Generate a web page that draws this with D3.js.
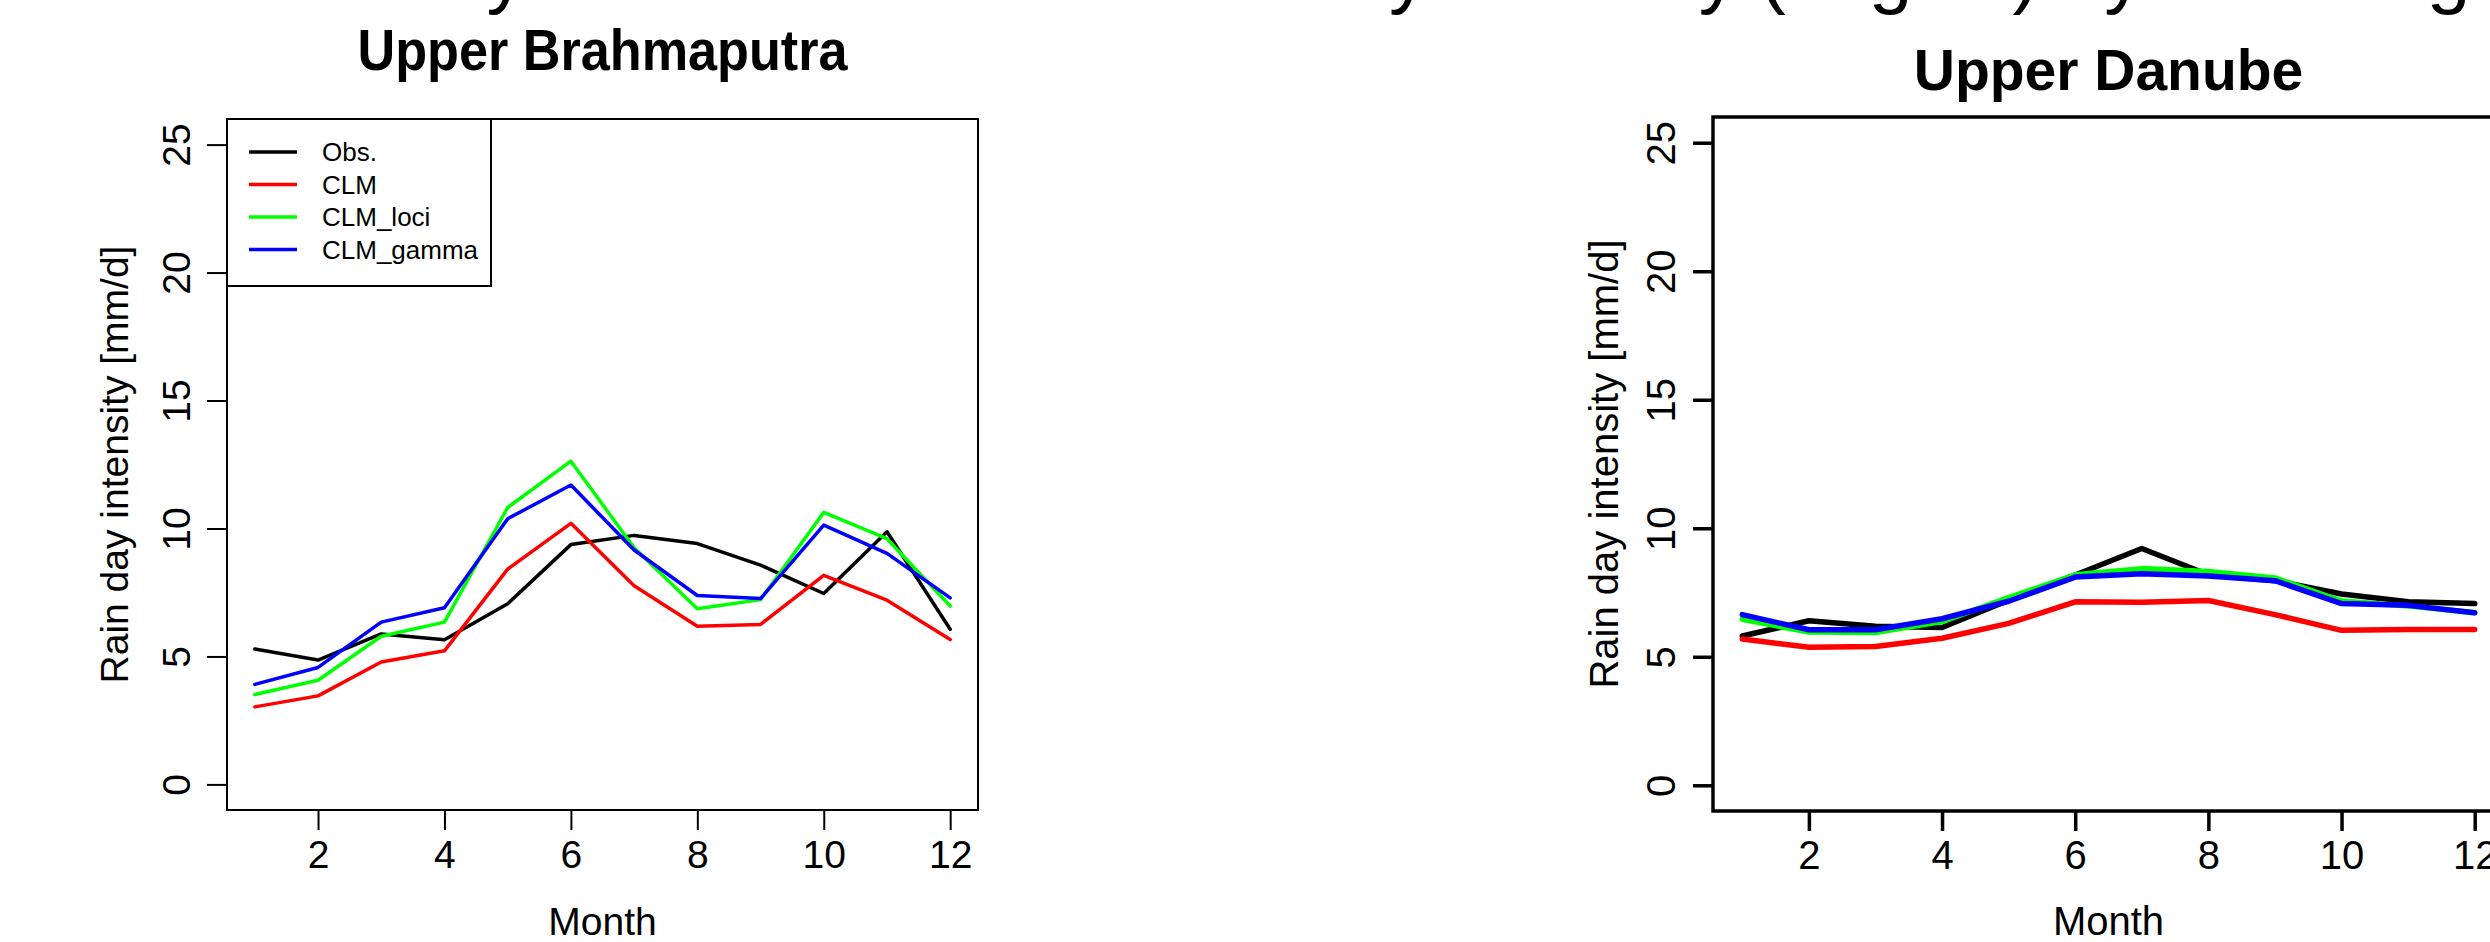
<!DOCTYPE html>
<html>
<head>
<meta charset="utf-8">
<script src="https://cdn.jsdelivr.net/npm/d3@7"></script>
<style>
  html, body { margin: 0; padding: 0; background: #fff; }
  svg { display: block; }
  text { font-family: "Liberation Sans", Arial, Helvetica, sans-serif; fill: #000; }
</style>
</head>
<body>
<svg id="chart" width="2490" height="942"></svg>
<script>
// months on the x axis
let months = [1, 2, 3, 4, 5, 6, 7, 8, 9, 10, 11, 12];
let xTicks = [2, 4, 6, 8, 10, 12];
let yTicks = [0, 5, 10, 15, 20, 25];
let yLimits = [0, 25];

let seriesNames = ['Obs.', 'CLM', 'CLM_loci', 'CLM_gamma'];
let seriesColors = ['#000000', '#ff0000', '#00ff00', '#0000ff'];

// Upper Brahmaputra, rain day intensity [mm/d]
let brahmaObs   = [5.29, 4.86, 5.88, 5.65, 7.06, 9.37, 9.73, 9.41, 8.57, 7.46, 9.87, 6.06];
let brahmaClm   = [3.03, 3.46, 4.78, 5.22, 8.41, 10.20, 7.76, 6.18, 6.25, 8.17, 7.20, 5.66];
let brahmaLoci  = [3.51, 4.07, 5.79, 6.34, 10.82, 12.63, 9.25, 6.86, 7.22, 10.63, 9.60, 6.97];
let brahmaGamma = [3.91, 4.57, 6.34, 6.90, 10.38, 11.70, 9.16, 7.38, 7.26, 10.13, 9.03, 7.29];

// Upper Danube, rain day intensity [mm/d]
let danubeObs   = [5.81, 6.40, 6.19, 6.14, 7.20, 8.18, 9.21, 8.19, 7.96, 7.44, 7.14, 7.07];
let danubeClm   = [5.69, 5.37, 5.40, 5.72, 6.30, 7.14, 7.12, 7.19, 6.64, 6.03, 6.06, 6.06];
let danubeLoci  = [6.46, 5.96, 5.94, 6.37, 7.30, 8.19, 8.43, 8.32, 8.07, 7.17, 6.98, 6.71];
let danubeGamma = [6.64, 6.05, 6.05, 6.48, 7.16, 8.10, 8.23, 8.14, 7.96, 7.07, 7.00, 6.71];

// figure caption, mostly cut off at the top of the picture
let caption = 'Monthly mean catchment rain day intensity (avg all) by each region';

let svg = d3.select('#chart');

// R style axis range: data range stretched 4% at both ends
function padRange(extent) {
    let pad = (extent[1] - extent[0]) * 0.04;
    return [extent[0] - pad, extent[1] + pad];
}

// only the descenders of the caption show; fit it so the first 'y'
// and the last 'g' fall where they do in the figure
function drawCaption() {
    let firstX = 506, lastX = 2449;
    let text = svg.append('text')
        .attr('x', 0)
        .attr('y', -1)
        .attr('font-family', '"DejaVu Sans Condensed", "DejaVu Sans", sans-serif')
        .attr('font-size', 80)
        .text(caption);
    let node = text.node();
    let first = caption.indexOf('y');
    let last = caption.lastIndexOf('g');
    let centre = i => {
        let r = node.getExtentOfChar(i);
        return r.x + r.width / 2;
    };
    text.attr('font-size', 80 * (lastX - firstX) / (centre(last) - centre(first)));
    text.attr('x', firstX - centre(first));
}

function drawPanel(p) {
    let x = d3.scaleLinear().domain(padRange(d3.extent(months))).range([p.left, p.right]);
    let y = d3.scaleLinear().domain(padRange(yLimits)).range([p.bottom, p.top]);
    let g = svg.append('g');

    // title
    g.append('text')
        .attr('transform', `translate(${(p.left + p.right) / 2}, ${p.titleY}) scale(${p.titleStretch}, 1)`)
        .attr('text-anchor', 'middle')
        .attr('font-family', p.titleFont)
        .attr('font-weight', 'bold')
        .attr('font-size', p.titleSize)
        .text(p.title);

    // y axis, labels parallel to the axis like R's las = 0
    let yAxis = g.append('g')
        .attr('transform', `translate(${p.left}, 0)`)
        .call(d3.axisLeft(y).tickValues(yTicks).tickSize(p.tick));
    yAxis.attr('font-size', p.fontSize).attr('font-family', null);
    yAxis.select('.domain').remove();
    yAxis.selectAll('line').attr('stroke', '#000').attr('stroke-width', p.axisWidth);
    yAxis.selectAll('text')
        .attr('x', 0)
        .attr('y', -p.yLabelGap)
        .attr('dy', 0)
        .attr('transform', 'rotate(-90)')
        .attr('text-anchor', 'middle')
        .attr('fill', '#000');

    let xAxis = g.append('g')
        .attr('transform', `translate(0, ${p.bottom})`)
        .call(d3.axisBottom(x).tickValues(xTicks).tickSize(p.tick));
    xAxis.attr('font-size', p.fontSize).attr('font-family', null);
    xAxis.select('.domain').remove();
    xAxis.selectAll('line').attr('stroke', '#000').attr('stroke-width', p.axisWidth);
    xAxis.selectAll('text')
        .attr('y', p.xLabelGap)
        .attr('dy', 0)
        .attr('fill', '#000');

    // axis titles
    g.append('text')
        .attr('x', (p.left + p.right) / 2)
        .attr('y', p.monthY)
        .attr('text-anchor', 'middle')
        .attr('font-size', p.fontSize)
        .text('Month');
    g.append('text')
        .attr('transform', `translate(${p.yTitleX}, ${(p.top + p.bottom) / 2}) rotate(-90)`)
        .attr('text-anchor', 'middle')
        .attr('font-size', p.fontSize)
        .text('Rain day intensity [mm/d]');

    // series lines
    let line = d3.line()
        .x((d, i) => x(months[i]))
        .y(d => y(d));
    g.selectAll('path.series')
        .data(p.series)
        .join('path')
        .attr('class', 'series')
        .attr('d', line)
        .attr('fill', 'none')
        .attr('stroke', (d, i) => seriesColors[i])
        .attr('stroke-width', p.lineWidth)
        .attr('stroke-linejoin', 'round')
        .attr('stroke-linecap', 'round');

    // plot frame
    g.append('rect')
        .attr('x', p.left)
        .attr('y', p.top)
        .attr('width', p.right - p.left)
        .attr('height', p.bottom - p.top)
        .attr('fill', 'none')
        .attr('stroke', '#000')
        .attr('stroke-width', p.axisWidth);

    if (p.legend) drawLegend(g, p);
}

function drawLegend(g, p) {
    let lg = p.legend;
    g.append('rect')
        .attr('x', p.left)
        .attr('y', p.top)
        .attr('width', lg.width)
        .attr('height', lg.height)
        .attr('fill', '#fff')
        .attr('stroke', '#000')
        .attr('stroke-width', p.axisWidth);
    let rows = g.selectAll('g.legend-row')
        .data(seriesNames)
        .join('g')
        .attr('class', 'legend-row')
        .attr('transform', (d, i) => `translate(${p.left}, ${p.top + lg.firstRow + i * lg.rowStep})`);
    rows.append('line')
        .attr('x1', lg.lineStart)
        .attr('x2', lg.lineEnd)
        .attr('stroke', (d, i) => seriesColors[i])
        .attr('stroke-width', p.lineWidth);
    rows.append('text')
        .attr('x', lg.textX)
        .attr('dy', '0.35em')
        .attr('font-size', lg.fontSize)
        .text(d => d);
}

drawCaption();

drawPanel({
    title: 'Upper Brahmaputra',
    titleFont: '"Liberation Sans", Arial, sans-serif',
    titleSize: 58,
    titleStretch: 0.9,
    titleY: 70,
    series: [brahmaObs, brahmaClm, brahmaLoci, brahmaGamma],
    left: 227, right: 978, top: 119, bottom: 810,
    tick: 20, fontSize: 39,
    yLabelGap: 37, xLabelGap: 58,
    monthY: 935, yTitleX: 128,
    lineWidth: 3.5, axisWidth: 2,
    legend: {width: 264, height: 167, firstRow: 33, rowStep: 32.5,
             lineStart: 22, lineEnd: 70, textX: 95, fontSize: 26}
});

drawPanel({
    title: 'Upper Danube',
    titleFont: '"DejaVu Sans Condensed", "DejaVu Sans", sans-serif',
    titleSize: 57,
    titleStretch: 1,
    titleY: 90,
    series: [danubeObs, danubeClm, danubeLoci, danubeGamma],
    left: 1713, right: 2504, top: 117, bottom: 811,
    tick: 20, fontSize: 40,
    yLabelGap: 38, xLabelGap: 58,
    monthY: 935, yTitleX: 1618,
    lineWidth: 5.5, axisWidth: 3.5
});
</script>
</body>
</html>
